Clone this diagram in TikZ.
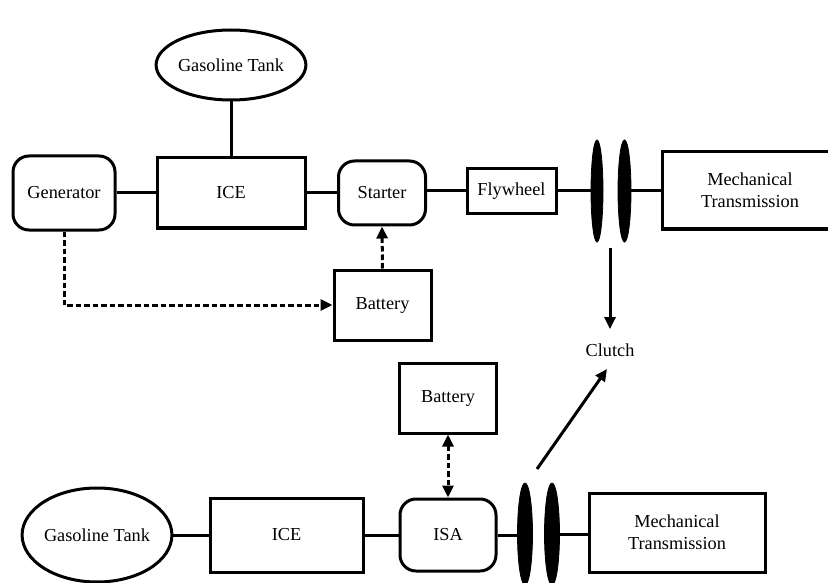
\documentclass[tikz,border=0pt]{standalone}
\usepackage{fontspec}
\setmainfont{Liberation Serif}
\usetikzlibrary{arrows.meta,shapes.geometric}
\begin{document}
\begin{tikzpicture}[x=1pt,y=-1pt,
  every node/.style={font=\fontsize{18.3}{22}\selectfont, inner sep=0pt, line width=3pt},
  box/.style={draw, rectangle, align=center},
  rbox/.style={draw, rectangle, rounded corners=16pt, align=center},
  tank/.style={draw, ellipse},
  disk/.style={draw, fill=black, ellipse, line width=0.8pt},
  link/.style={line width=3pt},
  dline/.style={line width=3pt, dash pattern=on 5.5pt off 3pt},
  tip/.style={-{Triangle[length=12pt,width=11pt]}},
  dtip/.style={{Triangle[length=12pt,width=11pt]}-{Triangle[length=12pt,width=11pt]}}
]
\clip (0,0) rectangle (828,583);
\fill[white] (0,0) rectangle (828,583);

% top system
\node[tank, minimum width=141pt, minimum height=70pt] (gt1) at (231,65) {Gasoline Tank};
\node[box, minimum width=148pt, minimum height=70pt] (ice1) at (231,193) {ICE};
\node[rbox, minimum width=102pt, minimum height=74pt] (gen) at (64,193) {Generator};
\node[rbox, minimum width=87pt, minimum height=64pt] (st) at (382,193) {Starter};
\node[box, minimum width=97pt, minimum height=70pt] (bat1) at (382.5,305) {Battery};
\node[box, minimum width=89pt, minimum height=45pt] (fly) at (511.5,191) {Flywheel};
\node[disk, minimum width=12pt, minimum height=102pt] (c1a) at (597,191) {};
\node[disk, minimum width=13pt, minimum height=102pt] (c1b) at (624.5,191) {};
\node[box, minimum width=176pt, minimum height=77pt] (mt1) at (750,190.5) {Mechanical\\Transmission};
\node (clutch) at (610,350) {Clutch};
\coordinate (ca) at (610,248);

\draw[link] (gt1.south) -- (ice1.north);
\draw[link] (gen.east) -- (ice1.west);
\draw[link] (ice1.east) -- (st.west);
\draw[link] (fly.west -| st.east) -- (fly.west);
\draw[link] (fly.east) -- (fly.east -| c1a.west);
\draw[link] (c1b.east) -- (c1b.east -| mt1.west);
\draw[dline, tip] (gen.south) |- (bat1.west);
\draw[dline, tip] (bat1.north) -- (st.south);
\draw[link, tip] (ca) -- ([yshift=13pt]clutch.north);

% bottom system
\node[tank, minimum width=141pt, minimum height=94pt] (gt2) at (97,535) {Gasoline Tank};
\node[box, minimum width=153pt, minimum height=74pt] (ice2) at (286.5,535) {ICE};
\node[rbox, minimum width=96pt, minimum height=72pt] (isa) at (448,535) {ISA};
\node[box, minimum width=97pt, minimum height=70pt] (bat2) at (448,398) {Battery};
\node[disk, minimum width=15pt, minimum height=102pt] (c2a) at (525,534) {};
\node[disk, minimum width=15pt, minimum height=102pt] (c2b) at (552,534) {};
\node[box, minimum width=176pt, minimum height=79pt] (mt2) at (677,532.5) {Mechanical\\Transmission};
\coordinate (d1) at (537,469);
\coordinate (d2) at (607,369);

\draw[link] (gt2.east) -- (ice2.west);
\draw[link] (ice2.east) -- (isa.west);
\draw[link] (isa.east) -- (isa.east -| c2a.west);
\draw[link] (c2b.east) -- (c2b.east -| mt2.west);
\draw[dline, dtip] (bat2.south) -- (isa.north);
\draw[link, tip] (d1) -- (d2);
\end{tikzpicture}
\end{document}
